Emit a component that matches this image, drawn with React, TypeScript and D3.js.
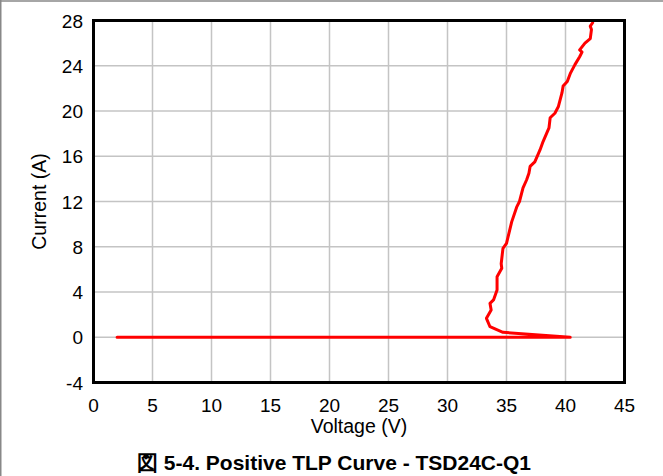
import React from "react";
import * as d3 from "d3";

const xTicks = [0, 5, 10, 15, 20, 25, 30, 35, 40, 45];
const yTicks = [-4, 0, 4, 8, 12, 16, 20, 24, 28];

const voltage = [
  2.0, 40.4, 34.7, 33.6, 33.3, 33.7, 33.6, 33.9, 34.2, 34.2, 34.6, 34.55, 34.7, 35.0,
  35.24, 35.44, 35.86, 36.1, 36.4, 36.7, 36.9, 37.0, 37.4, 37.84, 38.1, 38.6, 38.7,
  39.1, 39.4, 39.7, 39.8, 40.15, 40.4, 40.8, 41.2, 41.4, 41.2, 41.65, 42.1, 42.2,
  42.1, 42.3,
];
const current = [
  0, 0, 0.44, 0.93, 1.67, 2.4, 3.0, 3.3, 4.18, 5.35, 6.1, 6.5, 7.86, 8.3, 9.33, 10.2,
  11.5, 12.0, 13.2, 13.9, 14.5, 15.1, 15.5, 16.56, 17.3, 18.5, 19.4, 19.8, 20.4, 21.6,
  22.2, 22.6, 23.3, 24.1, 24.8, 25.2, 25.4, 26.0, 26.4, 27.2, 27.5, 27.8,
];

const xLabel = "Voltage (V)";
const yLabel = "Current (A)";
const title = "図 5-4. Positive TLP Curve - TSD24C-Q1";

export default function App() {
  const W = 663;
  const H = 476;
  const left = 93.5;
  const right = 624.5;
  const top = 20.5;
  const bottom = 382.5;
  const x = d3.scaleLinear().domain([0, 45]).range([left, right]);
  const y = d3.scaleLinear().domain([-4, 28]).range([bottom, top]);
  const pts: [number, number][] = voltage.map((v, i) => [v, current[i]]);
  const line = d3
    .line<[number, number]>()
    .x((d) => x(d[0]))
    .y((d) => y(d[1]));
  const font = "'Liberation Sans', Arial, sans-serif";
  return (
    <svg
      width={W}
      height={H}
      style={{ position: "absolute", left: 0, top: 0, background: "#fff" }}
      fontFamily={font}
    >
      <line x1={0} x2={W} y1={1} y2={1} stroke="#888" strokeWidth={1.5} />
      <line x1={0.75} x2={0.75} y1={0} y2={H} stroke="#888" strokeWidth={1.5} />
      {xTicks.slice(1, -1).map((t) => (
        <line key={"gx" + t} x1={x(t)} x2={x(t)} y1={top} y2={bottom} stroke="#c4c4c4" strokeWidth={1.5} />
      ))}
      {yTicks.slice(1, -1).map((t) => (
        <line key={"gy" + t} x1={left} x2={right} y1={y(t)} y2={y(t)} stroke="#c4c4c4" strokeWidth={1.5} />
      ))}
      <path d={line(pts) || ""} fill="none" stroke="#ff0000" strokeWidth={3} strokeLinejoin="round" strokeLinecap="round" />
      <rect x={left} y={top} width={right - left} height={bottom - top} fill="none" stroke="#000" strokeWidth={3} />
      {xTicks.map((t) => (
        <text key={"tx" + t} x={x(t)} y={412} textAnchor="middle" fontSize={19} fill="#000">
          {t}
        </text>
      ))}
      {yTicks.map((t) => (
        <text key={"ty" + t} x={83} y={y(t) + 7} textAnchor="end" fontSize={19} fill="#000">
          {t}
        </text>
      ))}
      <text x={(left + right) / 2} y={433} textAnchor="middle" fontSize={19.5} fill="#000">
        {xLabel}
      </text>
      <text
        transform={`translate(46, ${(top + bottom) / 2}) rotate(-90)`}
        textAnchor="middle"
        fontSize={19.5}
        fill="#000"
      >
        {yLabel}
      </text>
      <text x={334} y={469.5} textAnchor="middle" fontSize={21} fontWeight="bold" fill="#000">
        {title}
      </text>
    </svg>
  );
}
